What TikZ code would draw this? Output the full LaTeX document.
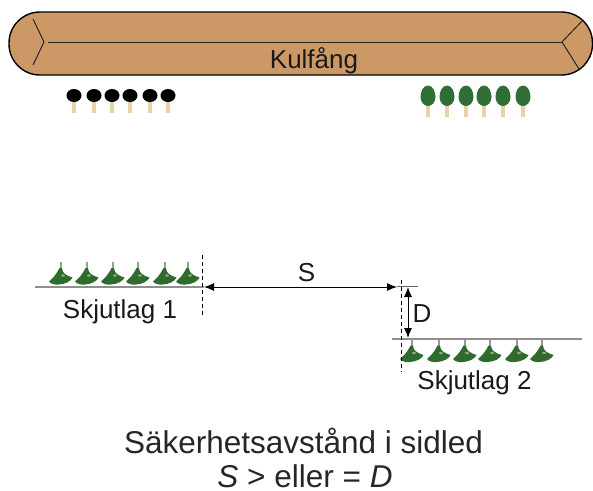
\documentclass[tikz,border=0pt]{standalone}
\usepackage{fontspec}
\setmainfont{Liberation Sans}
\usetikzlibrary{arrows.meta}
\definecolor{bank}{HTML}{CC9966}
\definecolor{stem}{HTML}{E8D3A8}
\definecolor{leaf}{HTML}{2F6F35}
\definecolor{shot}{HTML}{2E6B2C}
\definecolor{glint}{HTML}{8FAA78}
\definecolor{rule}{HTML}{8F8F8F}
\tikzset{
  x=1pt,y=-1pt,
  lbl/.style={font=\fontsize{26}{28}\selectfont,text=black!90,inner sep=0pt,anchor=base},
  bigl/.style={font=\fontsize{31.5}{35}\selectfont,text=black!85,inner sep=0pt,anchor=base},
  dim/.style={line width=1pt,{Latex[length=10pt,width=8pt]}-{Latex[length=10pt,width=8pt]}},
  guide/.style={line width=1pt,dash pattern=on 4pt off 3pt},
  ground/.style={line width=2pt,draw=rule},
  berm/.style={line width=1pt,draw=black!85},
  pics/target/.style={code={
    \fill[stem] (-1.7,4) rectangle (1.7,17.5);
    \fill[black] (0,0) ellipse (7.5 and 6.5);
  }},
  pics/tree/.style={code={
    \fill[stem] (-1.7,8) rectangle (1.7,21);
    \fill[leaf] (0,-10.5) .. controls (5,-10.5) and (7.5,-4) .. (7.5,1) .. controls (7.5,6) and (4,10) .. (0,10) .. controls (-4,10) and (-7.5,6) .. (-7.5,1) .. controls (-7.5,-4) and (-5,-10.5) .. (0,-10.5) -- cycle;
  }},
  pics/shooter/.style={code={
    \fill[black!40] (-0.7,-13) rectangle (0.7,-5);
    \fill[shot] (-12,6.5) .. controls (-8,3) and (-5,0) .. (-1.5,-7) -- (1,-7) .. controls (1.5,-2) and (4,0) .. (11.5,2.5) .. controls (10,6) and (5,9) .. (-2,9.5) .. controls (-6,10) and (-10,9) .. (-12,6.5) -- cycle;
    \fill[glint] (2,0.5) ellipse (2 and 1.2);
  }}
}
\begin{document}
\begin{tikzpicture}
\useasboundingbox (0,0) rectangle (593,490);
% bullet catcher
\draw[line width=1.4pt,draw=black,fill=bank,rounded corners=31pt] (9,12) rectangle (592.5,75);
\coordinate (lj) at (44,42); \coordinate (lu) at (33,19); \coordinate (ld) at (33,65);
\coordinate (rj) at (562,42); \coordinate (ru) at (582,21); \coordinate (rd) at (579,69);
\coordinate (lm) at (48,42);
\draw[berm] (lu) -- (lj) -- (ld);
\draw[berm] (ru) -- (rj) -- (rd);
\draw[berm] (lm) -- (rj);
\node[lbl] (kul) at (314,68) {Kulfång};
% targets
\foreach \x in {74,94,112,130,150,168} \pic at (\x,95.5) {target};
\foreach \x in {428,447,466,484,503,523} \pic at (\x,96) {tree};
% line 1
\foreach \x in {61,87,113,138,165,188} \pic at (\x,275) {shooter};
\coordinate (g1a) at (35,287); \coordinate (g1b) at (204,287);
\draw[ground] (g1a) -- (g1b);
\coordinate (d1a) at (202,255); \coordinate (d1b) at (202,316);
\draw[guide] (d1a) -- (d1b);
\node[lbl] (sk1) at (120,318) {Skjutlag 1};
% line 2
\coordinate (g2a) at (392,339); \coordinate (g2b) at (582,339);
\draw[ground] (g2a) -- (g2b);
\foreach \x in {412,439,465,490,517,542} \pic at (\x,352.5) {shooter};
\coordinate (d2a) at (401,280); \coordinate (d2b) at (401,372);
\draw[guide] (d2a) -- (d2b);
\coordinate (g3a) at (397,286.5); \coordinate (g3b) at (418,286.5);
\draw[line width=1pt,draw=black!60] (g3a) -- (g3b);
\node[lbl] (sk2) at (474.5,389) {Skjutlag 2};
% dimensions
\coordinate (s1) at (204,287);
\coordinate (s2) at (397,287);
\draw[dim] (s1) -- (s2);
\node[lbl] (s) at (306.5,281) {S};
\coordinate (da) at (408,287); \coordinate (db) at (408,338);
\draw[dim] (da) -- (db);
\node[lbl] (dl) at (422,322) {D};
% caption
\node[bigl] (cap1) at (303.5,453) {Säkerhetsavstånd i sidled};
\node[bigl] (cap2) at (305,487) {\textit{S} > eller = \textit{D}};
\end{tikzpicture}
\end{document}
